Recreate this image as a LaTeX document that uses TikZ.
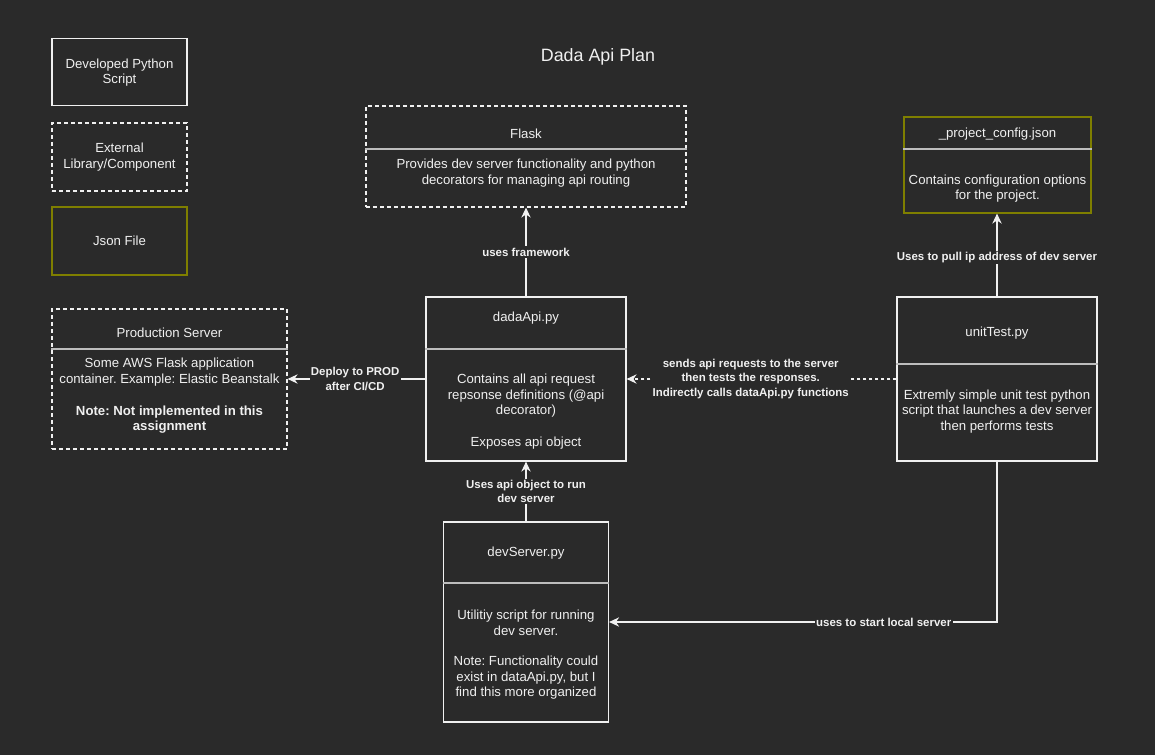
\documentclass[tikz,border=0pt]{standalone}
\usepackage{fontspec}
\setmainfont{Liberation Sans}
\usetikzlibrary{arrows.meta}
\definecolor{bgc}{HTML}{2A2A2A}
\definecolor{fgc}{HTML}{F0F0F0}
\definecolor{divc}{HTML}{BDBDBD}
\definecolor{olivec}{HTML}{7F7F00}
\frenchspacing
\tikzset{
  px/.style={x=0.75pt,y=-0.75pt},
  boxbase/.style={rectangle,inner sep=0pt,line width=0.9pt},
  dashedbox/.style={draw=fgc,dash pattern=on 3pt off 2.25pt},
  jsonbox/.style={draw=olivec},
  txt/.style={text=fgc,align=center,inner sep=0pt,font=\fontsize{9.9}{11.6}\selectfont},
  lbl/.style={text=fgc,align=center,inner sep=1pt,fill=bgc,font=\bfseries\fontsize{8.6}{10.9}\selectfont},
  conn/.style={draw=fgc,line width=0.9pt,-{Stealth[length=7.5pt,width=7pt,inset=2.4pt]}},
  divider/.style={draw=divc,line width=1.4pt},
}
\begin{document}
\begin{tikzpicture}[px]
\path[fill=bgc] (0,0) rectangle (1155,755);
\useasboundingbox (0,0) rectangle (1155,755);

% title
\node[txt,font=\fontsize{13.4}{15}\selectfont] (title) at (598,57) {Dada Api Plan};

% legend
\node[boxbase,draw=fgc,minimum width=101.25pt,minimum height=50.6pt] (leg1) at (119.5,72) {};
\node[txt] (leg1t) at (119.5,72.5) {Developed Python\\Script};
\node[boxbase,dashedbox,minimum width=101.25pt,minimum height=51pt] (leg2) at (119.5,157) {};
\node[txt] (leg2t) at (119.5,157) {External\\Library/Component};
\node[boxbase,jsonbox,minimum width=101.25pt,minimum height=51pt] (leg3) at (119.5,241) {};
\node[txt] (leg3t) at (119.5,241) {Json File};

% Flask
\node[boxbase,dashedbox,minimum width=240pt,minimum height=75.75pt] (flask) at (526,156.5) {};
\node[txt] (flaskh) at (526,133.5) {Flask};
\draw[divider] (flask.west |- 0,149) -- (flask.east |- 0,149);
\node[txt] (flaskb) at (526,173) {Provides dev server functionality and python\\decorators for managing api routing};

% config
\node[boxbase,jsonbox,minimum width=140.25pt,minimum height=72pt] (cfg) at (997.5,165) {};
\node[txt] (cfgh) at (997.5,134) {\_project\_config.json};
\draw[divider] (cfg.west |- 0,149) -- (cfg.east |- 0,149);
\node[txt] (cfgb) at (997.5,188.5) {Contains configuration options\\for the project.};

% production server
\node[boxbase,dashedbox,minimum width=176.25pt,minimum height=105pt] (prod) at (169.5,379) {};
\node[txt] (prodh) at (169.5,332.5) {Production Server};
\draw[divider] (prod.west |- 0,349) -- (prod.east |- 0,349);
\node[txt] (prodb) at (169.5,372) {Some AWS Flask application\\container. Example: Elastic Beanstalk};
\node[txt,font=\bfseries\fontsize{9.9}{11.6}\selectfont] (prodn) at (169.5,419.5) {Note: Not implemented in this\\assignment};

% dadaApi
\node[boxbase,draw=fgc,minimum width=150pt,minimum height=123pt] (dada) at (526,379) {};
\node[txt] (dadah) at (526,318) {dadaApi.py};
\draw[divider] (dada.west |- 0,349) -- (dada.east |- 0,349);
\node[txt] (dadab) at (526,396) {Contains all api request\\repsonse definitions (@api\\decorator)};
\node[txt] (dadae) at (526,443) {Exposes api object};

% unitTest
\node[boxbase,draw=fgc,minimum width=150pt,minimum height=123pt] (unit) at (997,379) {};
\node[txt] (unith) at (997,333) {unitTest.py};
\draw[divider] (unit.west |- 0,364) -- (unit.east |- 0,364);
\node[txt] (unitb) at (997,411.5) {Extremly simple unit test python\\script that launches a dev server\\then performs tests};

% devServer
\node[boxbase,draw=fgc,minimum width=123.75pt,minimum height=150pt] (dev) at (526,622) {};
\node[txt] (devh) at (526,553) {devServer.py};
\draw[divider] (dev.west |- 0,583) -- (dev.east |- 0,583);
\node[txt] (devb) at (526,623) {Utilitiy script for running\\dev server.};
\node[txt] (devn) at (526,678) {Note: Functionality could\\exist in dataApi.py, but I\\find this more organized};

% connectors
\draw[conn] (dada.north) -- node[lbl,pos=0.5] (l1) {uses framework} (flask.south);
\draw[conn] (unit.north) -- node[lbl,pos=0.47] (l2) {Uses to pull ip address of dev server} (cfg.south -| unit.north);
\draw[conn] (dada.west) -- node[lbl,pos=0.51] (l3) {Deploy to PROD\\after CI/CD} (prod.east);
\draw[conn,dash pattern=on 2.25pt off 2.25pt] (unit.west) -- node[lbl,pos=0.54] (l4) {sends api requests to the server\\then tests the responses.\\Indirectly calls dataApi.py functions} (dada.east);
\draw[conn] (dev.north) -- node[lbl,pos=0.5] (l5) {Uses api object to run\\dev server} (dada.south);
\draw[conn] (unit.south) |- node[lbl,pos=0.646] (l6) {uses to start local server} (dev.east);
\end{tikzpicture}
\end{document}
